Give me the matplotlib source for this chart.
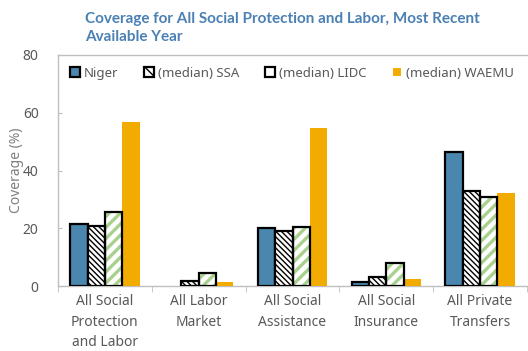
import numpy as np
import matplotlib.pyplot as plt
from matplotlib.patches import Patch

plt.rcParams['font.family'] = ['Noto Sans', 'DejaVu Sans']

categories = ['All Social\nProtection\nand Labor', 'All Labor\nMarket', 'All Social\nAssistance',
              'All Social\nInsurance', 'All Private\nTransfers']
niger = [21.3, np.nan, 20.0, 1.4, 46.4]
ssa = [20.8, 1.7, 19.0, 3.0, 32.9]
lidc = [25.5, 4.4, 20.5, 8.1, 30.8]
waemu = [56.9, 1.3, 54.8, 2.3, 32.3]

blue = '#4a86ad'
orange = '#f2ab00'
green = '#a9d18e'
grey_txt = '#595959'
axis_grey = '#bfbfbf'

fig = plt.figure(figsize=(5.28, 3.51), dpi=100)
ax = fig.add_axes([58/528, 65/351, 469/528, 231/351])

x = np.arange(len(categories))
w = 0.185

ax.bar(x - 1.5*w, niger, w, color=blue, edgecolor='black', linewidth=1.6, zorder=3)
# hatched bars: hatch drawn in edge colour first, black outline on top
with plt.rc_context({'hatch.linewidth': 1.0}):
    ax.bar(x - 0.5*w, ssa, w, color='white', edgecolor='black', hatch='\\\\\\\\\\\\', linewidth=0, zorder=3)
ax.bar(x - 0.5*w, ssa, w, color='none', edgecolor='black', linewidth=1.6, zorder=4)
with plt.rc_context({'hatch.linewidth': 2.4}):
    ax.bar(x + 0.5*w, lidc, w, color='white', edgecolor=green, hatch='///', linewidth=0, zorder=3)
ax.bar(x + 0.5*w, lidc, w, color='none', edgecolor='black', linewidth=1.6, zorder=4)
ax.bar(x + 1.5*w, waemu, w, color=orange, linewidth=0, zorder=3)

ax.set_xlim(-0.5, len(categories) - 0.5)
ax.set_ylim(0, 80)
ax.set_yticks([0, 20, 40, 60, 80])
ax.tick_params(axis='y', direction='in', length=3, color=axis_grey, labelsize=10,
               labelcolor=grey_txt, pad=14)
ax.set_xticks(x)
ax.set_xticklabels(categories, fontsize=10, color=grey_txt, linespacing=1.5)
ax.tick_params(axis='x', length=0, pad=6)
ax.set_xticks(np.arange(-0.5, len(categories)), minor=True)
ax.tick_params(axis='x', which='minor', length=4, color=axis_grey, direction='out')

for side in ['left', 'top', 'bottom']:
    ax.spines[side].set_color(axis_grey)
    ax.spines[side].set_linewidth(1.0)
ax.spines['right'].set_visible(False)

ax.set_ylabel('Coverage (%)', fontsize=10, color='#7f7f7f', labelpad=-1)

handles = [
    Patch(facecolor=blue, edgecolor='black', linewidth=1.6),
    Patch(facecolor='white', edgecolor='black', hatch='\\\\\\', linewidth=1.6),
    Patch(facecolor='white', edgecolor='black', linewidth=1.6),
    Patch(facecolor=orange, edgecolor='white', linewidth=1.5),
]
labels = ['Niger', '(median) SSA', '(median) LIDC', '(median) WAEMU']
ax.legend(handles, labels, loc='upper left', bbox_to_anchor=(0.0, 1.0), ncol=4, frameon=False,
          fontsize=9.5, labelcolor=grey_txt, handlelength=0.75, handleheight=0.75,
          handletextpad=0.3, columnspacing=1.95, borderaxespad=0.5)

fig.text(85/528, 1 - 28/351, 'Coverage for All Social Protection and Labor, Most Recent\nAvailable Year',
         fontsize=11, fontweight='bold', color='#4b80b4', family=['Lato', 'DejaVu Sans'],
         va='center', ha='left', linespacing=1.35)

fig.savefig('out.png', dpi=100)
